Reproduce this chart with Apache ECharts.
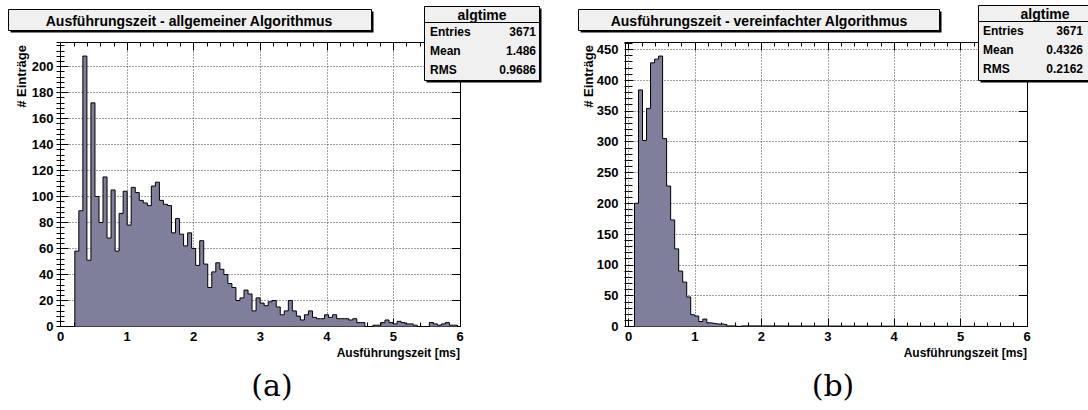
<!DOCTYPE html>
<html>
<head>
<meta charset="utf-8">
<script src="https://cdn.jsdelivr.net/npm/echarts@6/dist/echarts.min.js"></script>
<style>
html,body{margin:0;padding:0;background:#fff;}
#chart{width:1088px;height:410px;}
</style>
</head>
<body>
<div id="chart"></div>
<script>
// ---------------- data ----------------
const binWidth = 0.0605;          // ms per bin
const leftStart = 0.215;          // lower edge of first listed bin (ms)
const rightStart = 0.09;
const leftCounts = [58, 89, 208, 51, 172, 100, 80, 115, 68, 105, 58, 87, 104,
  78, 107, 103, 97, 95, 93, 108, 111, 97, 94, 93, 72, 83, 71, 62, 72, 60,
  47, 66, 48, 30, 42, 49, 44, 40, 33, 30, 20, 22, 28, 25, 12, 22,
  18, 16, 19, 20, 15, 9, 12, 20, 12, 8, 5, 9, 12, 7, 6, 6,
  9, 7, 9, 6, 6, 6, 5, 6, 3, 3, 0, 0, 1, 1, 3, 5,
  3, 2, 4, 3, 2, 2, 1, 0, 0, 0, 3, 2, 1, 2, 3, 1, 1];
const rightCounts = [200, 384, 302, 354, 428, 434, 439, 305, 228, 173, 126, 90,
  72, 48, 19, 17, 8, 12, 6, 5, 4, 4, 3, 1, 1, 0, 1];
const titles = ['Ausführungszeit - allgemeiner Algorithmus', 'Ausführungszeit - vereinfachter Algorithmus'];
const statNames = ['Entries', 'Mean', 'RMS'];
const leftStats = ['3671', '1.486', '0.9686'];
const rightStats = ['3671', '0.4326', '0.2162'];
const statTitle = 'algtime';
const xTitle = 'Ausführungszeit [ms]';
const yTitle = '# Einträge';
const captions = ['(a)', '(b)'];
const xRange = [0, 6];
const leftYMax = 218.4, rightYMax = 461;
const leftYStep = 20, rightYStep = 50;
const leftYMinor = 4, rightYMinor = 10;

// ---------------- helpers ----------------
function histPoints(start, w, counts, xmax) {
  const pts = [[xRange[0], 0]];
  counts.forEach((c, i) => pts.push([+(start + i * w).toFixed(4), c]));
  pts.push([+(start + counts.length * w).toFixed(4), 0]);
  pts.push([xmax, 0]);
  return pts;
}
const FF = 'Liberation Sans';
const BLACK = '#000';
const gridLine = { show: true, lineStyle: { color: '#444', type: [1, 2], width: 1 } };

function xAxes(gi) {
  const base = {
    gridIndex: gi, type: 'value', min: xRange[0], max: xRange[1], interval: 1,
    axisLine: { show: true, onZero: false, lineStyle: { color: BLACK, width: 1 } },
    axisTick: { show: true, inside: true, length: 8, lineStyle: { color: BLACK, width: 1 } },
    minorTick: { show: true, splitNumber: 5, length: 4, lineStyle: { color: BLACK, width: 1 } }
  };
  return [
    Object.assign({}, base, { position: 'bottom',
      axisLabel: { show: true, color: BLACK, fontFamily: FF, fontWeight: 'bold', fontSize: 13, margin: 3 },
      splitLine: gridLine }),
    Object.assign({}, base, { position: 'top', axisLabel: { show: false }, splitLine: { show: false } })
  ];
}
function yAxes(gi, ymax, step, minor, offset) {
  const major = {
    gridIndex: gi, type: 'value', min: 0, max: ymax, interval: step,
    axisLine: { show: true, onZero: false, lineStyle: { color: BLACK, width: 1 } },
    axisTick: { show: true, inside: true, length: 8, lineStyle: { color: BLACK, width: 1 } },
    splitLine: { show: false }, axisLabel: { show: false }
  };
  const minorAx = {
    gridIndex: gi, type: 'value', min: 0, max: ymax, interval: minor,
    axisLine: { show: false },
    axisTick: { show: true, inside: true, length: 4, lineStyle: { color: BLACK, width: 1 } },
    splitLine: { show: false }, axisLabel: { show: false }
  };
  return [
    Object.assign({}, major, { position: 'left', offset: offset, splitLine: gridLine,
      axisLabel: { show: true, showMaxLabel: false, color: BLACK, fontFamily: FF, fontWeight: 'bold', fontSize: 13, margin: 7 } }),
    Object.assign({}, minorAx, { position: 'left', offset: offset }),
    Object.assign({}, major, { position: 'right' }),
    Object.assign({}, minorAx, { position: 'right' })
  ];
}

function txt(x, y, s, font, align, va, extra) {
  return Object.assign({ type: 'text', x: x, y: y, z: 100,
    style: { text: s, font: font, fill: BLACK, align: align, verticalAlign: va } }, extra || {});
}
function box(x, y, w, h, sh) {
  const els = [];
  els.push({ type: 'rect', z: 99, shape: { x: x + sh, y: y + sh, width: w, height: h }, style: { fill: '#000' } });
  els.push({ type: 'rect', z: 99, shape: { x: x, y: y, width: w, height: h }, style: { fill: '#f0f0f0', stroke: BLACK, lineWidth: 1 } });
  return els;
}
function statsBox(x, y, w, h, stats, labelX, valueX, titleX) {
  let els = box(x, y, w, h, 2);
  els.push(txt(titleX, y + 8, statTitle, 'bold 14px ' + FF, 'center', 'middle'));
  els.push({ type: 'line', z: 100, shape: { x1: x, y1: y + 16, x2: x + w, y2: y + 16 }, style: { stroke: BLACK, lineWidth: 1 } });
  const rows = [y + 25, y + 44, y + 63];
  statNames.forEach((n, i) => {
    els.push(txt(labelX, rows[i], n, 'bold 12px ' + FF, 'left', 'middle'));
    els.push(txt(valueX, rows[i], stats[i], 'bold 12px ' + FF, 'right', 'middle'));
  });
  return els;
}

// ---------------- layout ----------------
const G0 = { left: 60.5, top: 42.5, width: 399.5, height: 284 };
const G1 = { left: 628.5, top: 42.5, width: 398.5, height: 284 };
const frameOffset = 3; // right panel frame starts slightly left of x=0

let graphics = [];
graphics = graphics.concat(box(8.5, 9.5, 363, 21, 2));
graphics.push(txt(189, 20.5, titles[0], 'bold 14px ' + FF, 'center', 'middle'));
graphics = graphics.concat(box(578.5, 9.5, 361, 21, 2));
graphics.push(txt(759, 20.5, titles[1], 'bold 14px ' + FF, 'center', 'middle'));
graphics = graphics.concat(statsBox(424.5, 6.5, 115, 74, leftStats, 430, 536, 482));
graphics = graphics.concat(statsBox(978.5, 5.5, 115, 75, rightStats, 983, 1083, 1045));
// right frame extension (between frame edge and x=0)
graphics.push({ type: 'line', z: 50, shape: { x1: G1.left - frameOffset, y1: G1.top, x2: G1.left, y2: G1.top }, style: { stroke: BLACK, lineWidth: 1 } });
graphics.push({ type: 'line', z: 50, shape: { x1: G1.left - frameOffset, y1: G1.top + G1.height, x2: G1.left, y2: G1.top + G1.height }, style: { stroke: BLACK, lineWidth: 1 } });
// axis titles
graphics.push(txt(460, 353, xTitle, 'bold 12px ' + FF, 'right', 'middle'));
graphics.push(txt(1027, 353, xTitle, 'bold 12px ' + FF, 'right', 'middle'));
graphics.push(txt(21.5, 45, yTitle, 'bold 13px ' + FF, 'right', 'middle', { rotation: Math.PI / 2 }));
graphics.push(txt(588.5, 45, yTitle, 'bold 13px ' + FF, 'right', 'middle', { rotation: Math.PI / 2 }));
// captions
graphics.push(txt(272, 385, captions[0], '30px DejaVu Serif', 'center', 'middle'));
graphics.push(txt(833, 385, captions[1], '30px DejaVu Serif', 'center', 'middle'));

const histStyle = {
  type: 'line', step: 'end', symbol: 'none', silent: true,
  lineStyle: { color: BLACK, width: 1 },
  areaStyle: { color: '#7f7f9c', opacity: 1 }
};

const option = {
  animation: false,
  backgroundColor: '#fff',
  grid: [G0, G1],
  xAxis: xAxes(0).concat(xAxes(1)),
  yAxis: yAxes(0, leftYMax, leftYStep, leftYMinor, 0).concat(yAxes(1, rightYMax, rightYStep, rightYMinor, frameOffset)),
  series: [
    Object.assign({}, histStyle, { xAxisIndex: 0, yAxisIndex: 0, data: histPoints(leftStart, binWidth, leftCounts, xRange[1]) }),
    Object.assign({}, histStyle, { xAxisIndex: 2, yAxisIndex: 4, data: histPoints(rightStart, binWidth, rightCounts, xRange[1]) })
  ],
  graphic: { elements: graphics }
};

const chart = echarts.init(document.getElementById('chart'), null, { renderer: 'svg' });
chart.setOption(option);
</script>
</body>
</html>
